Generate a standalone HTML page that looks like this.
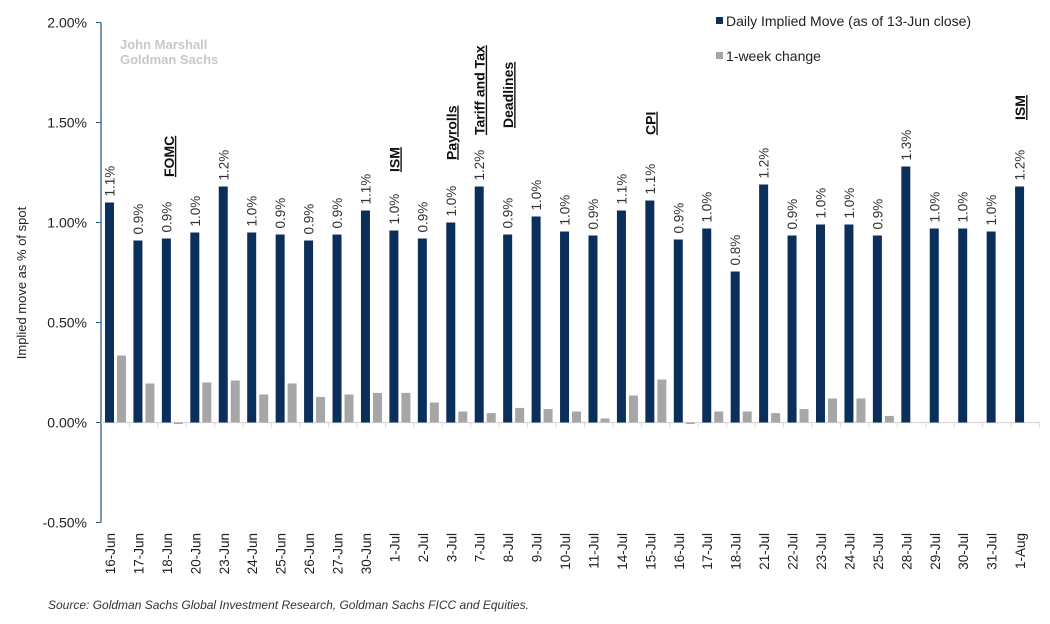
<!DOCTYPE html>
<html><head><meta charset="utf-8">
<style>
html,body{margin:0;padding:0;background:#fff;}
svg{display:block;font-family:"Liberation Sans",Arial,sans-serif;}
</style></head>
<body>
<svg id="chart" width="1050" height="624" viewBox="0 0 1050 624" xmlns="http://www.w3.org/2000/svg">
  <text transform="translate(26,283) rotate(-90)" text-anchor="middle" font-size="13" fill="#222">Implied move as % of spot</text>
  <text x="120" y="49" font-size="13" font-weight="bold" fill="#c8c8c8">John Marshall</text>
  <text x="120" y="64" font-size="13" font-weight="bold" fill="#c8c8c8">Goldman Sachs</text>
  <g>
    <rect x="716" y="17" width="7" height="7" fill="#0b2f5b"/>
    <text x="726" y="26" font-size="14" fill="#222">Daily Implied Move (as of 13-Jun close)</text>
    <rect x="716" y="52" width="7" height="7" fill="#a6a6a6"/>
    <text x="726" y="61" font-size="14" fill="#222">1-week change</text>
  </g>
  <g id="plot"></g>
  <text x="48" y="609" font-size="12" font-style="italic" fill="#333">Source: Goldman Sachs Global Investment Research, Goldman Sachs FICC and Equities.</text>
</svg>
<script>
const categories = ["16-Jun","17-Jun","18-Jun","20-Jun","23-Jun","24-Jun","25-Jun","26-Jun","27-Jun","30-Jun","1-Jul","2-Jul","3-Jul","7-Jul","8-Jul","9-Jul","10-Jul","11-Jul","14-Jul","15-Jul","16-Jul","17-Jul","18-Jul","21-Jul","22-Jul","23-Jul","24-Jul","25-Jul","28-Jul","29-Jul","30-Jul","31-Jul","1-Aug"];
const dailyMove = [1.10,0.91,0.92,0.95,1.18,0.95,0.94,0.91,0.94,1.06,0.96,0.92,1.00,1.18,0.94,1.03,0.955,0.935,1.06,1.11,0.915,0.97,0.755,1.19,0.935,0.99,0.99,0.935,1.28,0.97,0.97,0.955,1.18];
const dailyLabels = ["1.1%","0.9%","0.9%","1.0%","1.2%","1.0%","0.9%","0.9%","0.9%","1.1%","1.0%","0.9%","1.0%","1.2%","0.9%","1.0%","1.0%","0.9%","1.1%","1.1%","0.9%","1.0%","0.8%","1.2%","0.9%","1.0%","1.0%","0.9%","1.3%","1.0%","1.0%","1.0%","1.2%"];
const weekChange = [0.335,0.195,-0.005,0.20,0.21,0.14,0.195,0.128,0.14,0.148,0.148,0.10,0.055,0.047,0.073,0.067,0.055,0.02,0.135,0.215,-0.005,0.055,0.055,0.047,0.067,0.12,0.12,0.033,0,0,0,0,0];
const yTicks = [-0.5,0,0.5,1.0,1.5,2.0];
const yTickLabels = ["-0.50%","0.00%","0.50%","1.00%","1.50%","2.00%"];
const eventLabels = ["FOMC","ISM","Payrolls","Tariff and Tax","Deadlines","CPI","ISM"];
const eventCategories = ["18-Jun","1-Jul","3-Jul","7-Jul","8-Jul","15-Jul","1-Aug"];

const NS="http://www.w3.org/2000/svg";
const plot=document.getElementById('plot');
const X0=101, SLOT=28.44, Y0=422.5, PXPER=200;
function y(v){return Y0 - v*PXPER;}
function slotX(i){return X0 + i*SLOT;}
function mk(tag,attrs){const e=document.createElementNS(NS,tag);for(const k in attrs)e.setAttribute(k,attrs[k]);plot.appendChild(e);return e;}

let ax=mk('line',{x1:X0,y1:y(2),x2:X0,y2:y(-0.5),stroke:'#2f5f86','stroke-width':1.3});


yTicks.forEach((t,i)=>{
  const tk=mk('line',{x1:X0-5,y1:y(t),x2:X0,y2:y(t),stroke:'#2f5f86','stroke-width':1});
  
  
  const tl=mk('text',{x:X0-14,y:y(t)+5,'text-anchor':'end','font-size':14,fill:'#222'});
  tl.textContent=yTickLabels[i];
  
  
});
let zl=mk('line',{x1:X0,y1:Y0,x2:X0+categories.length*SLOT,y2:Y0,stroke:'#d9d9d9','stroke-width':1.2});


for(let i=1;i<=categories.length;i++){
  const t=mk('line',{x1:slotX(i),y1:Y0,x2:slotX(i),y2:Y0+5,stroke:'#d9d9d9','stroke-width':1});
  
  
}
categories.forEach((c,i)=>{
  const sx=slotX(i);
  const v=dailyMove[i];
  const b=mk('rect',{x:sx+4,y:Math.min(y(v),Y0),width:9,height:Math.abs(y(v)-Y0),fill:'#0b2f5b'});
  
  
  const w=weekChange[i];
  if(w!==0){
    const g=mk('rect',{x:sx+16,y:Math.min(y(w),Y0),width:9,height:Math.max(1.5,Math.abs(y(w)-Y0)),fill:'#a6a6a6'});
    
    
  }
  const vl=mk('text',{transform:`translate(${sx+13.5},${y(v)-6}) rotate(-90)`,'font-size':13.5,fill:'#333'});
  vl.textContent=dailyLabels[i];
  
  
  const xl=mk('text',{transform:`translate(${sx+14},${533}) rotate(-90)`,'text-anchor':'end','font-size':13.5,fill:'#222'});
  xl.textContent=c;
  
  
});
const eventBottoms=[177,172,160,135,128,135,120];
const eventXShift=[2,0,0,0,0,0,0];
eventLabels.forEach((lab,k)=>{
  const i=categories.indexOf(eventCategories[k]);
  const cx=slotX(i)+14+eventXShift[k];
  const t=mk('text',{transform:`translate(${cx},${eventBottoms[k]}) rotate(-90)`,'font-size':14,'font-weight':'bold','text-decoration':'underline',fill:'#111'});
  t.textContent=lab;
  
  
});
</script>
</body></html>
